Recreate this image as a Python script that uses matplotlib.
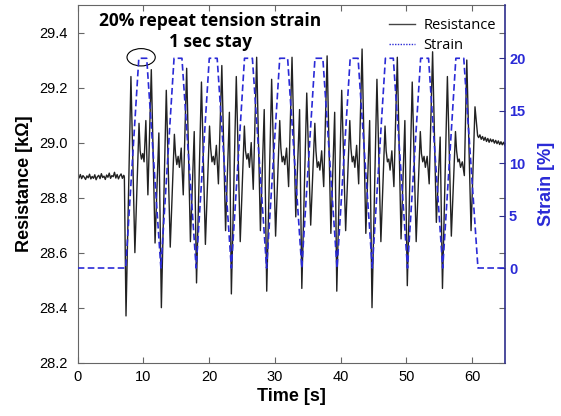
from __future__ import annotations

import matplotlib
matplotlib.use("Agg")
import matplotlib.pyplot as plt
from matplotlib.patches import Ellipse

FIGSIZE = (5.61, 4.16)
DPI = 100

# --- resistance trace (kOhm) ---
BASE_PRE_T = [0.0, 0.2, 0.4, 0.6, 0.8, 1.0, 1.2, 1.4, 1.6, 1.8, 2.0, 2.2,
              2.4, 2.6, 2.8, 3.0, 3.2, 3.4, 3.6, 3.8, 4.0, 4.2, 4.4, 4.6,
              4.8, 5.0, 5.2, 5.4, 5.6, 5.8, 6.0, 6.2, 6.4, 6.6, 6.8, 7.0, 7.1]
BASE_PRE_R = [28.878, 28.871, 28.884, 28.869, 28.880, 28.874, 28.866, 28.879,
              28.872, 28.885, 28.868, 28.877, 28.870, 28.883, 28.865, 28.876,
              28.881, 28.869, 28.887, 28.873, 28.878, 28.866, 28.882, 28.874,
              28.889, 28.870, 28.880, 28.876, 28.892, 28.871, 28.884, 28.868,
              28.879, 28.886, 28.870, 28.881, 28.875]

CYCLE_T = [
    7.35, 8.10, 8.70, 9.33, 9.50, 9.70, 9.90, 10.10, 10.37, 10.68, 11.20, 11.77, 12.35,
    12.73, 13.48, 14.08, 14.71, 14.88, 15.08, 15.28, 15.48, 15.75, 16.06, 16.58, 17.15, 17.73,
    18.08, 18.83, 19.43, 20.06, 20.23, 20.43, 20.63, 20.83, 21.10, 21.41, 21.93, 22.50, 23.08,
    23.38, 24.13, 24.73, 25.36, 25.53, 25.73, 25.93, 26.13, 26.40, 26.71, 27.23, 27.80, 28.38,
    28.76, 29.51, 30.11, 30.74, 30.91, 31.11, 31.31, 31.51, 31.78, 32.09, 32.61, 33.18, 33.76,
    34.10, 34.85, 35.45, 36.08, 36.25, 36.45, 36.65, 36.85, 37.12, 37.43, 37.95, 38.52, 39.10,
    39.42, 40.17, 40.77, 41.40, 41.57, 41.77, 41.97, 42.17, 42.44, 42.75, 43.27, 43.84, 44.42,
    44.78, 45.53, 46.13, 46.76, 46.93, 47.13, 47.33, 47.53, 47.80, 48.11, 48.63, 49.20, 49.78,
    50.15, 50.90, 51.50, 52.13, 52.30, 52.50, 52.70, 52.90, 53.17, 53.48, 54.00, 54.57, 55.15,
    55.50, 56.25, 56.85, 57.48, 57.65, 57.85, 58.05, 58.25, 58.52, 58.83, 59.20, 59.85, 60.45,
]
CYCLE_R = [
    28.37, 29.24, 28.60, 29.07, 28.97, 28.94, 28.96, 28.93, 29.08, 28.81, 29.265, 28.635, 29.035,
    28.40, 29.19, 28.62, 29.03, 28.96, 28.92, 28.95, 28.91, 28.98, 28.81, 29.27, 28.64, 29.04,
    28.49, 29.22, 28.63, 29.06, 28.98, 28.93, 28.95, 28.92, 28.99, 28.85, 29.28, 28.68, 29.11,
    28.45, 29.24, 28.64, 29.06, 28.97, 28.94, 28.96, 28.91, 29.00, 28.83, 29.31, 28.68, 29.12,
    28.46, 29.23, 28.66, 29.08, 28.98, 28.93, 28.95, 28.92, 28.98, 28.84, 29.31, 28.73, 29.12,
    28.47, 29.18, 28.70, 29.07, 28.97, 28.91, 28.93, 28.90, 28.97, 28.84, 29.315, 28.67, 29.11,
    28.46, 29.19, 28.68, 29.08, 28.98, 28.93, 28.95, 28.91, 28.99, 28.85, 29.34, 28.67, 29.08,
    28.40, 29.23, 28.64, 29.06, 28.97, 28.93, 28.94, 28.90, 28.97, 28.84, 29.31, 28.65, 29.08,
    28.48, 29.22, 28.64, 29.04, 28.96, 28.93, 28.95, 28.91, 28.95, 28.85, 29.33, 28.71, 29.02,
    28.47, 29.24, 28.66, 29.04, 28.97, 28.93, 28.94, 28.91, 28.93, 28.88, 29.30, 28.68, 29.13,
]

BASE_POST_T = [60.85, 61.0, 61.2, 61.4, 61.6, 61.8, 62.0, 62.2, 62.4, 62.6, 62.8,
               63.0, 63.2, 63.4, 63.6, 63.8, 64.0, 64.2, 64.4, 64.6, 64.8, 65.0]
BASE_POST_R = [29.025, 29.018, 29.028, 29.012, 29.022, 29.008, 29.019, 29.004,
               29.015, 29.001, 29.013, 29.003, 29.011, 28.998, 29.008, 28.996,
               29.006, 28.993, 29.003, 28.992, 29.001, 28.989]

# --- applied strain (%), trapezoid corners ---
STRAIN_T = [0.0, 7.30, 9.30, 10.50, 12.66, 14.66, 15.86, 18.02, 20.02, 21.22,
            23.38, 25.38, 26.58, 28.74, 30.74, 31.94, 34.10, 36.10, 37.30,
            39.46, 41.46, 42.66, 44.82, 46.82, 48.02, 50.18, 52.18, 53.38,
            55.54, 57.54, 58.74, 60.90, 65.0]
STRAIN_V = [0, 0, 20, 20, 0, 20, 20, 0, 20, 20, 0, 20, 20, 0, 20, 20, 0, 20, 20,
            0, 20, 20, 0, 20, 20, 0, 20, 20, 0, 20, 20, 0, 0]

RES_TICKS = [28.2, 28.4, 28.6, 28.8, 29.0, 29.2, 29.4]
STRAIN_TICKS = [0, 5, 10, 15, 20]
TIME_TICKS = [0, 10, 20, 30, 40, 50, 60]

# circle marking the first 1 s hold
HOLD_MARK = (9.65, 29.31)

BLUE = "#2a2ad6"
NAVY = "#2e2e8c"
GRAY = "#666666"


def main() -> None:
    fig = plt.figure(figsize=FIGSIZE, dpi=DPI)
    ax = fig.add_axes([0.1385, 0.1281, 0.7615, 0.8599])
    ax2 = ax.twinx()

    res_t = BASE_PRE_T + CYCLE_T + BASE_POST_T
    res_r = BASE_PRE_R + CYCLE_R + BASE_POST_R
    ax.plot(res_t, res_r, color="#222222", lw=1.0, label="Resistance")
    ax2.plot(STRAIN_T, STRAIN_V, color=BLUE, lw=1.2,
             linestyle=(0, (4, 2)), label="Strain")

    ax.add_patch(Ellipse(HOLD_MARK, width=4.3, height=0.063, fill=False,
                         edgecolor="black", lw=0.8))

    ax.set_xlim(0, 65)
    ax.set_ylim(28.2, 29.5)
    ax2.set_ylim(-9.03, 25.08)

    ax.set_xticks(TIME_TICKS)
    ax.set_yticks(RES_TICKS)
    ax.set_yticklabels([f"{v:.1f}" for v in RES_TICKS])
    ax2.set_yticks(STRAIN_TICKS)

    tick_font = dict(family="Liberation Sans", size=10.5)
    ax.tick_params(direction="in", length=4, width=0.8, top=True, right=True,
                   color=GRAY)
    ax.tick_params(axis="y", pad=7)
    ax.tick_params(axis="x", pad=5)
    for lab in ax.get_xticklabels() + ax.get_yticklabels():
        lab.set_fontproperties(tick_font)
    ax2.tick_params(direction="in", length=4, width=0.8, color=NAVY,
                    labelcolor=BLUE, pad=3)
    for lab in ax2.get_yticklabels():
        lab.set_fontproperties(dict(family="Liberation Sans", size=10.5, weight="bold"))

    for side in ["left", "bottom", "top"]:
        ax.spines[side].set_color(GRAY)
        ax2.spines[side].set_visible(False)
    ax.spines["right"].set_visible(False)
    ax2.spines["right"].set_color(NAVY)
    ax2.spines["right"].set_linewidth(1.2)

    lab_font = dict(family="Liberation Sans", size=13, weight="bold")
    ax.set_xlabel("Time [s]", fontdict=lab_font, labelpad=3)
    ax.set_ylabel("Resistance [kΩ]", fontdict=lab_font, labelpad=5)
    ax2.set_ylabel("Strain [%]", fontdict=lab_font, color=BLUE, labelpad=9)

    ax.text(0.31, 0.926, "20% repeat tension strain\n1 sec stay",
            transform=ax.transAxes, ha="center", va="center",
            family="Open Sans", weight="bold", fontsize=12.5, linespacing=1.15)

    l1_leg = plt.Line2D([], [], color="#444444", lw=1.0)
    l2_leg = plt.Line2D([], [], color=BLUE, lw=1.0, linestyle=(0, (1, 1)))
    fig.legend([l1_leg, l2_leg], ["Resistance", "Strain"], loc="upper left",
               bbox_to_anchor=(382 / 561, 1 - 11 / 416), frameon=False,
               borderpad=0, handlelength=1.75, handletextpad=0.6,
               labelspacing=0.35, prop=dict(family="Open Sans", size=10.5))

    fig.savefig("out.png", dpi=DPI)
    plt.close(fig)


if __name__ == "__main__":
    main()
